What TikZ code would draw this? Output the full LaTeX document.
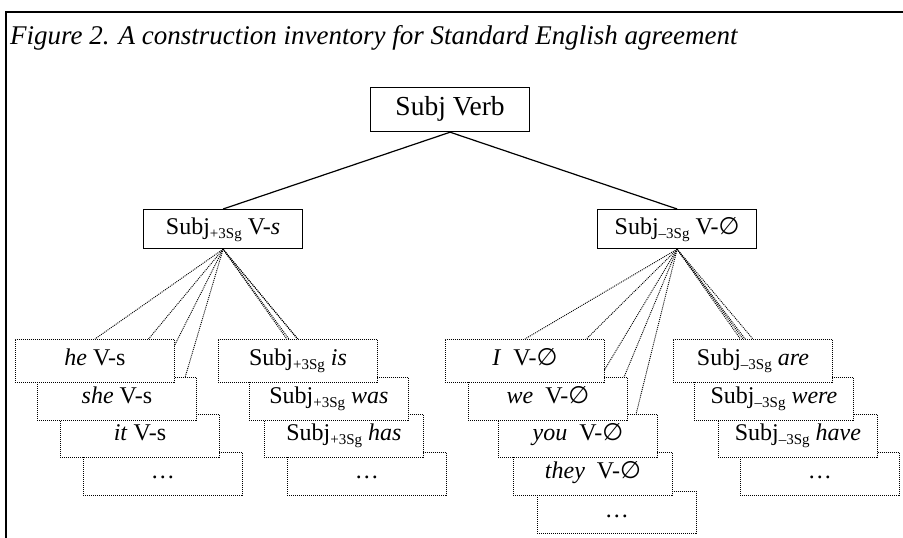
\documentclass[tikz,border=0pt]{standalone}
\usepackage{fontspec}
\setmainfont{Liberation Serif}
\newfontfamily\symfnt{DejaVu Sans}
\usetikzlibrary{backgrounds}
% empty-set sign and lowered agreement subscripts
\newcommand\nul{{\symfnt ∅}}
\newcommand\sbs[1]{\raisebox{-4pt}{\fontsize{15}{15}\selectfont #1}}
\tikzset{
  solidbox/.style={draw, line width=1.2pt, fill=white, inner sep=0pt,
    minimum width=159, anchor=north west, text height=16, text depth=6,
    font=\fontsize{24}{26}\selectfont},
  stackbox/.style={draw, dash pattern=on 1pt off 1pt, line width=0.9pt, fill=white,
    inner sep=0pt, minimum width=159, minimum height=43, anchor=north west,
    text height=16, text depth=6, font=\fontsize{24}{26}\selectfont},
  tree/.style={line width=1.2pt},
  dotline/.style={dash pattern=on 1pt off 1pt, line width=0.9pt}
}
\begin{document}
\begin{tikzpicture}[x=1pt,y=-1pt]
\useasboundingbox (0,0) rectangle (903,538);
% open frame
\draw[line width=2pt] (6,540) -- (6,12) -- (905,12);
\node[anchor=base west, inner sep=0pt, font=\itshape\fontsize{27}{30}\selectfont] (title) at (10,45)
  {Figure 2. A construction inventory for Standard English agreement};

% upper tree
\node[solidbox, minimum height=44, text height=18, text depth=6,
  font=\fontsize{27.5}{29}\selectfont] (top) at (370,87) {Subj Verb};
\node[solidbox, minimum height=39] (midL) at (143,209) {Subj\sbs{+3Sg} V-\textit{s}};
\node[solidbox, minimum height=39] (midR) at (597,209) {Subj\sbs{–3Sg} V-\nul};
\draw[tree] (top.south) -- (midL.north);
\draw[tree] (top.south) -- (midR.north);

% stack: pronoun subjects, singular
\node[stackbox] (dotsA) at (83,452) {\dots};
\node[stackbox] (itA) at (60,414) {\textit{it} V-s};
\node[stackbox] (sheA) at (37,377) {\textit{she} V-s};
\node[stackbox] (heA) at (15,339) {\textit{he} V-s};

% stack: singular irregular verbs
\node[stackbox] (dotsB) at (287,452) {\dots};
\node[stackbox] (hasB) at (264,414) {Subj\sbs{+3Sg} \textit{has}};
\node[stackbox] (wasB) at (249,377) {Subj\sbs{+3Sg} \textit{was}};
\node[stackbox] (isB) at (218,339) {Subj\sbs{+3Sg} \textit{is}};

% stack: other pronoun subjects
\node[stackbox, minimum height=42] (dotsC) at (537,491) {\dots};
\node[stackbox] (theyC) at (513,452) {\textit{they}\ \ V-\nul};
\node[stackbox] (youC) at (498,414) {\textit{you}\ \ V-\nul};
\node[stackbox] (weC) at (468,377) {\textit{we}\ \ V-\nul};
\node[stackbox] (iC) at (445,339) {\textit{I}\ \ V-\nul};

% stack: non-third-singular irregular verbs
\node[stackbox] (dotsD) at (740,452) {\dots};
\node[stackbox] (haveD) at (718,414) {Subj\sbs{–3Sg} \textit{have}};
\node[stackbox] (wereD) at (694,377) {Subj\sbs{–3Sg} \textit{were}};
\node[stackbox] (areD) at (673,339) {Subj\sbs{–3Sg} \textit{are}};

% instance links, kept behind the boxes
\begin{pgfonlayer}{background}
  \foreach \b in {heA,sheA,itA,dotsA,isB,wasB,hasB,dotsB}
    \draw[dotline] (midL.south) -- (\b.north);
  \foreach \b in {iC,weC,youC,theyC,dotsC,areD,wereD,haveD,dotsD}
    \draw[dotline] (midR.south) -- (\b.north);
\end{pgfonlayer}
\end{tikzpicture}
\end{document}
